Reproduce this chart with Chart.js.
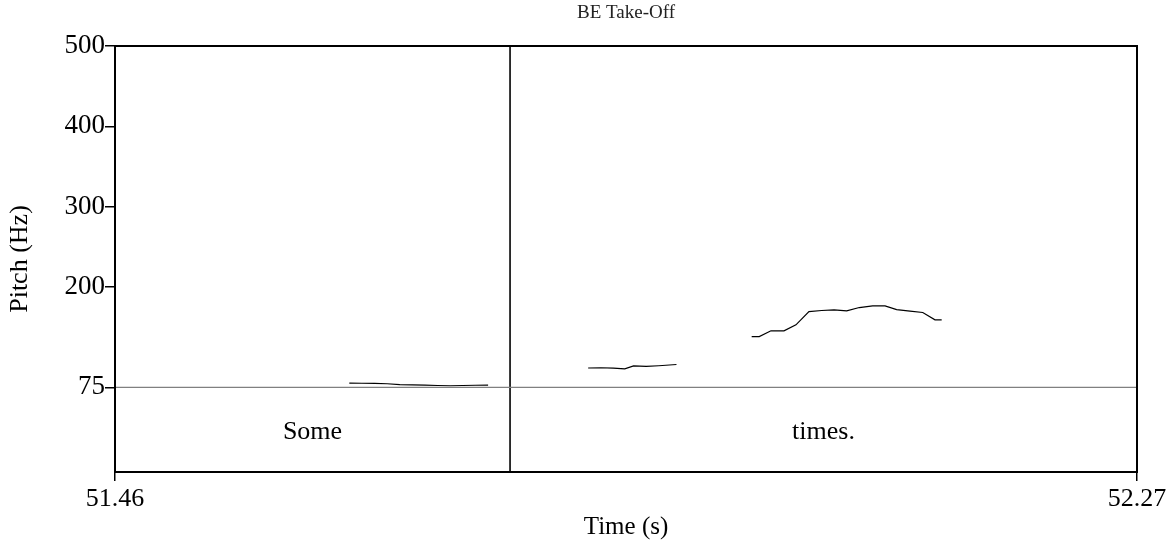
<!DOCTYPE html>
<html>
<head>
<meta charset="utf-8">
<script src="https://cdn.jsdelivr.net/npm/chart.js@4.4.1/dist/chart.umd.min.js"></script>
<style>
  html, body { margin: 0; padding: 0; background: #fff; }
  #wrap { width: 1173px; height: 542px; }
</style>
</head>
<body>
<div id="wrap"><canvas id="c" width="1173" height="542"></canvas></div>
<script>
// ---- data ----
const chartTitle = "BE Take-Off";
const xRange = [51.46, 52.27];
const yMax = 500;
const yMin = -30.5;            // lower part of the plot holds the text tier
const floorHz = 75;
const yTickValues = [75, 200, 300, 400, 500];
const xTickValues = [51.46, 52.27];

const seg1Time = [51.6457, 51.6557, 51.6657, 51.6757, 51.6857, 51.6957, 51.7057, 51.7157, 51.7257, 51.7357, 51.7457, 51.7557];
const seg1Hz   = [80.2, 80.0, 79.8, 79.4, 78.4, 78.0, 77.6, 77.2, 76.9, 77.2, 77.5, 77.7];

const seg2Time = [51.835, 51.845, 51.855, 51.864, 51.871, 51.881, 51.891, 51.905];
const seg2Hz   = [99.0, 99.3, 98.9, 98.0, 101.6, 101.0, 101.8, 103.4];

const seg3Time = [51.9646, 51.9706, 51.9799, 51.9902, 51.9997, 52.0100, 52.0201, 52.0299, 52.0399, 52.0499, 52.0605, 52.0703, 52.0795, 52.0901, 52.1002, 52.1099, 52.1152];
const seg3Hz   = [138.2, 138.2, 145.3, 145.3, 152.8, 169.3, 170.6, 171.4, 170.2, 174.3, 176.4, 176.4, 171.8, 169.8, 168.1, 159.0, 159.0];

const tierBounds = [51.46, 51.7731, 52.27];
const tierLabels = ["Some", "times."];

// ---- chart ----
const pts = (t, v) => t.map((x, i) => ({ x: x, y: v[i] }));
const serif = "'Liberation Serif', 'Times New Roman', serif";

const framePlugin = {
  id: 'frame',
  afterDatasetsDraw(chart) {
    const { ctx, chartArea: a, scales } = chart;
    ctx.save();
    // title, centred over the plot area
    ctx.fillStyle = '#222';
    ctx.font = "19px " + serif;
    ctx.textAlign = 'center';
    ctx.textBaseline = 'middle';
    ctx.fillText(chartTitle, (a.left + a.right) / 2, 13);
    // text tier labels
    ctx.fillStyle = '#000';
    ctx.font = "26px " + serif;
    const yMid = scales.y.getPixelForValue((floorHz + yMin) / 2) + 3;
    for (let i = 0; i < tierLabels.length; i++) {
      const xm = scales.x.getPixelForValue((tierBounds[i] + tierBounds[i + 1]) / 2);
      ctx.fillText(tierLabels[i], xm, yMid);
    }
    // frame
    ctx.strokeStyle = '#000';
    ctx.lineWidth = 2;
    ctx.strokeRect(a.left, a.top, a.right - a.left, a.bottom - a.top);
    ctx.restore();
  }
};

const lineDs = (data, color, w) => ({
  data: data, borderColor: color, borderWidth: w, pointRadius: 0,
  tension: 0, fill: false, showLine: true
});

new Chart(document.getElementById('c'), {
  type: 'scatter',
  data: {
    datasets: [
      lineDs(pts([xRange[0], xRange[1]], [floorHz, floorHz]), '#808080', 1.2),
      lineDs(pts([tierBounds[1], tierBounds[1]], [yMin, yMax]), '#000', 1.6),
      lineDs(pts(seg1Time, seg1Hz), '#000', 1.2),
      lineDs(pts(seg2Time, seg2Hz), '#000', 1.2),
      lineDs(pts(seg3Time, seg3Hz), '#000', 1.2)
    ]
  },
  options: {
    responsive: false,
    animation: false,
    layout: { padding: { left: 0, right: 36, top: 46, bottom: 0 } },
    plugins: {
      legend: { display: false },
      tooltip: { enabled: false },
      title: { display: false }
    },
    scales: {
      x: {
        type: 'linear', min: xRange[0], max: xRange[1],
        afterBuildTicks: s => { s.ticks = xTickValues.map(v => ({ value: v })); },
        afterFit: s => { s.height = 70; },
        grid: { drawOnChartArea: false, drawTicks: true, tickLength: 9, color: '#000', lineWidth: 1.5 },
        border: { display: true, color: '#000', width: 2 },
        ticks: {
          color: '#000', padding: 3, maxRotation: 0, autoSkip: false,
          font: { family: serif, size: 26 },
          callback: v => Number(v).toFixed(2)
        },
        title: {
          display: true, text: 'Time (s)', color: '#000',
          font: { family: serif, size: 25 }, padding: { top: 0, bottom: 0 }
        }
      },
      y: {
        type: 'linear', min: yMin, max: yMax,
        afterBuildTicks: s => { s.ticks = yTickValues.map(v => ({ value: v })); },
        afterFit: s => { s.width = 115; },
        grid: { drawOnChartArea: false, drawTicks: true, tickLength: 10, color: '#000', lineWidth: 1.5 },
        border: { display: true, color: '#000', width: 2 },
        ticks: {
          color: '#000', padding: 0, autoSkip: false,
          font: { family: serif, size: 27 },
          callback: v => String(v)
        },
        title: {
          display: true, text: 'Pitch (Hz)', color: '#000',
          font: { family: serif, size: 26 }, padding: { top: 5, bottom: 0 }
        }
      }
    }
  },
  plugins: [framePlugin]
});
</script>
</body>
</html>
